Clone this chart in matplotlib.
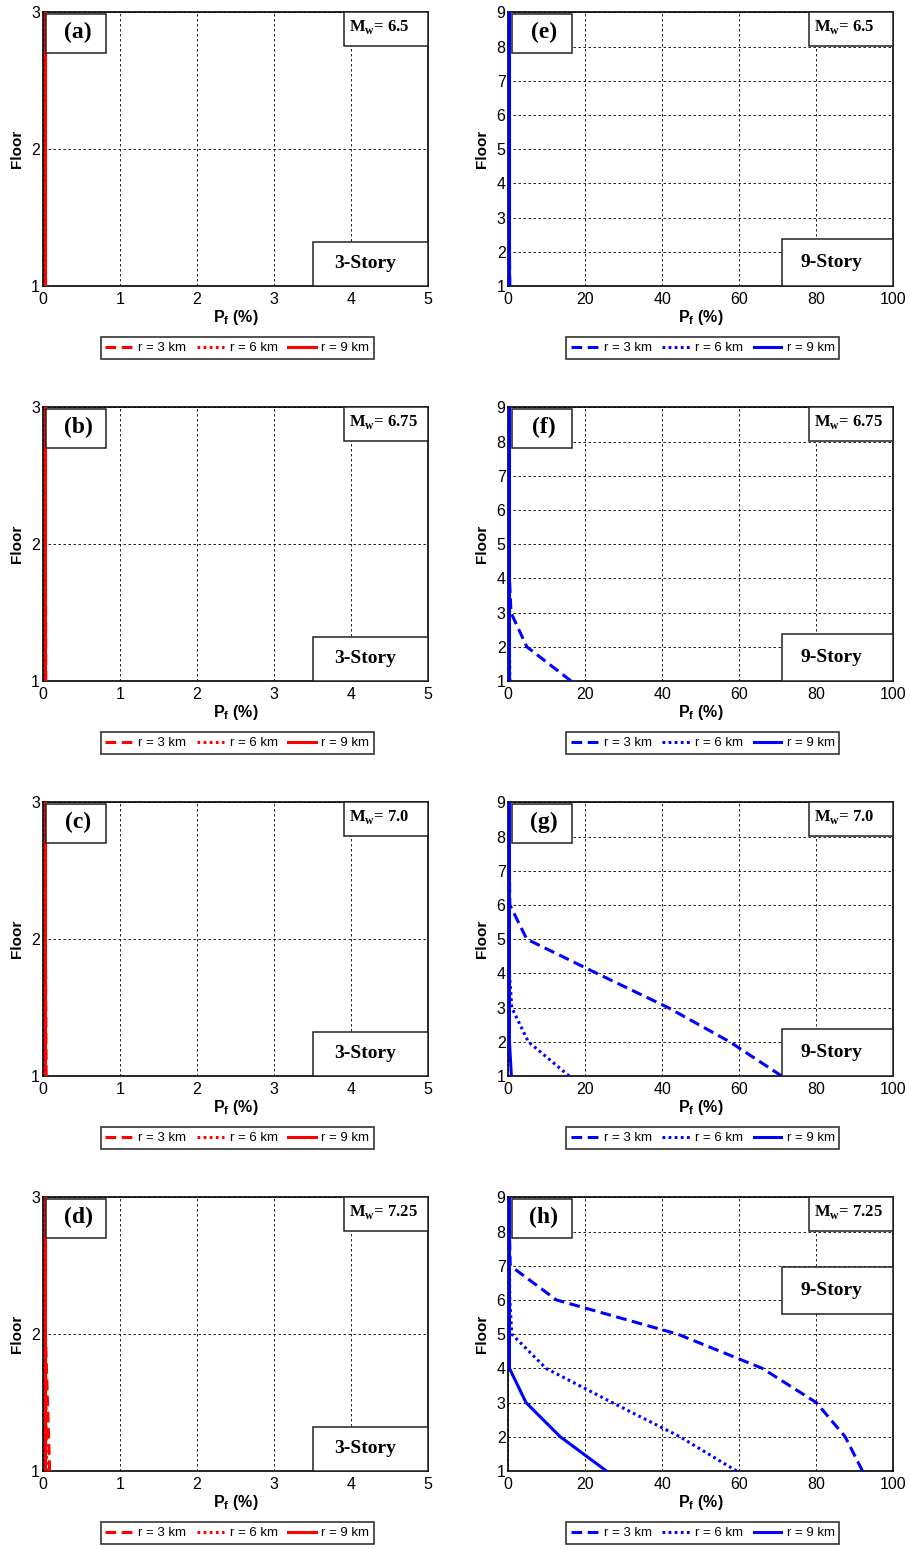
import matplotlib
matplotlib.use("Agg")
import matplotlib.pyplot as plt
from matplotlib.patches import Rectangle

plt.rcParams["font.family"] = ["Liberation Sans", "DejaVu Sans"]

MAGNITUDES = ["6.5", "6.75", "7.0", "7.25"]
LETTERS_3 = ["(a)", "(b)", "(c)", "(d)"]
LETTERS_9 = ["(e)", "(f)", "(g)", "(h)"]
DISTANCE_LABELS = ["r = 3 km", "r = 6 km", "r = 9 km"]

floors_3 = [1, 2, 3]
floors_9 = [1, 2, 3, 4, 5, 6, 7, 8, 9]

# 3-story frame, probability of failure (%) per floor
s3_m650_r3 = [0.035, 0.035, 0.035]
s3_m650_r6 = [0.035, 0.035, 0.035]
s3_m650_r9 = [0.035, 0.035, 0.035]
s3_m675_r3 = [0.04, 0.035, 0.035]
s3_m675_r6 = [0.035, 0.035, 0.035]
s3_m675_r9 = [0.035, 0.035, 0.035]
s3_m700_r3 = [0.045, 0.035, 0.035]
s3_m700_r6 = [0.035, 0.035, 0.035]
s3_m700_r9 = [0.035, 0.035, 0.035]
s3_m725_r3 = [0.09, 0.035, 0.035]
s3_m725_r6 = [0.05, 0.035, 0.035]
s3_m725_r9 = [0.035, 0.035, 0.035]

# 9-story frame, probability of failure (%) per floor
s9_m650_r3 = [0.4, 0.3, 0.3, 0.3, 0.3, 0.3, 0.3, 0.3, 0.3]
s9_m650_r6 = [0.3, 0.3, 0.3, 0.3, 0.3, 0.3, 0.3, 0.3, 0.3]
s9_m650_r9 = [0.3, 0.3, 0.3, 0.3, 0.3, 0.3, 0.3, 0.3, 0.3]
s9_m675_r3 = [16.3, 4.8, 0.7, 0.3, 0.3, 0.3, 0.3, 0.3, 0.3]
s9_m675_r6 = [0.4, 0.3, 0.3, 0.3, 0.3, 0.3, 0.3, 0.3, 0.3]
s9_m675_r9 = [0.3, 0.3, 0.3, 0.3, 0.3, 0.3, 0.3, 0.3, 0.3]
s9_m700_r3 = [71.0, 57.5, 41.5, 23.0, 4.8, 0.4, 0.3, 0.3, 0.3]
s9_m700_r6 = [15.8, 5.2, 0.9, 0.3, 0.3, 0.3, 0.3, 0.3, 0.3]
s9_m700_r9 = [0.8, 0.3, 0.3, 0.3, 0.3, 0.3, 0.3, 0.3, 0.3]
s9_m725_r3 = [92.0, 87.5, 80.0, 66.0, 44.0, 12.5, 0.5, 0.3, 0.3]
s9_m725_r6 = [59.3, 44.6, 27.0, 9.8, 0.9, 0.4, 0.3, 0.3, 0.3]
s9_m725_r9 = [25.5, 13.5, 4.6, 0.3, 0.3, 0.3, 0.3, 0.3, 0.3]

story3 = [
    [s3_m650_r3, s3_m650_r6, s3_m650_r9],
    [s3_m675_r3, s3_m675_r6, s3_m675_r9],
    [s3_m700_r3, s3_m700_r6, s3_m700_r9],
    [s3_m725_r3, s3_m725_r6, s3_m725_r9],
]
story9 = [
    [s9_m650_r3, s9_m650_r6, s9_m650_r9],
    [s9_m675_r3, s9_m675_r6, s9_m675_r9],
    [s9_m700_r3, s9_m700_r6, s9_m700_r9],
    [s9_m725_r3, s9_m725_r6, s9_m725_r9],
]

LINESTYLES = [(0, (3.5, 1.8)), (0, (0.9, 1.1)), "-"]
SERIF = "Liberation Serif"


def add_box(ax, x0, y0, x1, y1):
    ax.add_patch(Rectangle((x0, y0), x1 - x0, y1 - y0, transform=ax.transAxes,
                           facecolor="white", edgecolor="#222222", lw=1.1,
                           zorder=5, clip_on=False))


def draw_panel(ax, floors, series, color, xmax, xticks, letter, mag,
               story_text, story_top):
    for vals, ls, lab in zip(series, LINESTYLES, DISTANCE_LABELS):
        ax.plot(vals, floors, color=color, lw=2.2, linestyle=ls, label=lab,
                zorder=3)
    ax.set_xlim(0, xmax)
    ax.set_ylim(floors[0], floors[-1])
    ax.set_xticks(xticks)
    ax.set_yticks(floors)
    ax.grid(True, color="k", lw=0.6, linestyle=(0, (3, 3)))
    ax.set_axisbelow(True)
    ax.tick_params(length=0, labelsize=11.5)
    ax.tick_params(axis="y", pad=2)
    ax.tick_params(axis="x", pad=4)
    for sp in ax.spines.values():
        sp.set_linewidth(1.2)
    ax.set_ylabel("Floor", fontsize=11, fontweight="bold")
    ax.yaxis.set_label_coords(-0.049, 0.5)
    ax.set_xlabel(r"P$_\mathregular{f}$ (%)", fontsize=11.5, fontweight="bold")
    ax.xaxis.set_label_coords(0.5, -0.082)

    # panel letter
    add_box(ax, 0.009, 0.852, 0.165, 0.995)
    ax.text(0.092, 0.925, letter, transform=ax.transAxes, family=SERIF,
            fontweight="bold", fontsize=17, ha="center", va="center", zorder=6)
    # magnitude
    add_box(ax, 0.782, 0.877, 1.0, 1.0)
    ax.text(0.795, 0.945, r"M$_\mathregular{w}$= " + mag, transform=ax.transAxes,
            family=SERIF, fontweight="bold", fontsize=12, ha="left",
            va="center", zorder=6)
    # building label
    add_box(ax, story_text[1], story_top[0], 1.0, story_top[1])
    ax.text((story_text[1] + 1.0) / 2 - 0.015, sum(story_top) / 2,
            story_text[0], transform=ax.transAxes, family=SERIF,
            fontweight="bold", fontsize=14, ha="center", va="center", zorder=6)

    leg = ax.legend(loc="center", bbox_to_anchor=(0.505, -0.227), ncol=3,
                    fontsize=9.5, frameon=True, fancybox=False,
                    handlelength=2.1, handletextpad=0.4, columnspacing=0.8,
                    borderpad=0.35, borderaxespad=0)
    leg.get_frame().set_edgecolor("k")
    leg.get_frame().set_linewidth(1.2)


fig = plt.figure(figsize=(9.1, 15.48), dpi=100)
W, H = 910.0, 1548.0
ax_h = 273.7
for i in range(4):
    top = 12.3 + 395.0 * i
    bottom = 1 - (top + ax_h) / H
    ax_l = fig.add_axes([42.7 / W, bottom, 385.3 / W, ax_h / H])
    draw_panel(ax_l, floors_3, story3[i], "red", 5, [0, 1, 2, 3, 4, 5],
               LETTERS_3[i], MAGNITUDES[i], ("3-Story", 0.702), (0.0, 0.161))
    ax_r = fig.add_axes([508.3 / W, bottom, 385.0 / W, ax_h / H])
    story_pos = (0.573, 0.744) if i == 3 else (0.0, 0.172)
    draw_panel(ax_r, floors_9, story9[i], "blue", 100, [0, 20, 40, 60, 80, 100],
               LETTERS_9[i], MAGNITUDES[i], ("9-Story", 0.711), story_pos)

fig.savefig("out.png", dpi=100)
plt.close(fig)
